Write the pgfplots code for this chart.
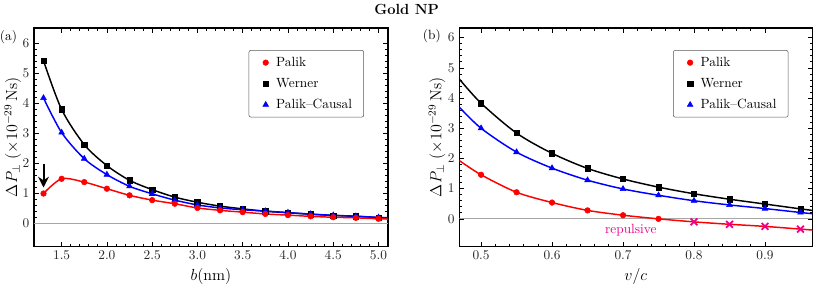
\documentclass[border=0pt]{standalone}
\usepackage{pgfplots}
\pgfplotsset{compat=1.18}
\usetikzlibrary{arrows.meta}

\pgfplotstableread{
b     W     C      P
1.3   5.42  4.18   1.00
1.5   3.80  3.03   1.49
1.75  2.63  2.16   1.38
2.0   1.93  1.63   1.16
2.25  1.44  1.24   0.94
2.5   1.13  0.99   0.78
2.75  0.88  0.78   0.66
3.0   0.71  0.62   0.52
3.25  0.58  0.52   0.44
3.5   0.49  0.46   0.38
3.75  0.41  0.415  0.32
4.0   0.36  0.365  0.28
4.25  0.31  0.315  0.24
4.5   0.27  0.275  0.21
4.75  0.24  0.245  0.19
5.0   0.20  0.205  0.16
}\tabA

\pgfplotstableread{
v      W     C     P
0.5    3.83  3.00  1.46
0.55   2.84  2.21  0.88
0.6    2.17  1.68  0.54
0.65   1.67  1.28  0.28
0.7    1.32  0.99  0.12
0.75   1.05  0.78  0.00
0.8    0.83  0.60  -0.10
0.85   0.65  0.46  -0.18
0.9    0.49  0.34  -0.25
0.95   0.33  0.21  -0.34
}\tabB

\pgfplotsset{
  myax/.style={
    scale only axis, anchor=south west,
    height=163.9pt,
    clip mode=individual,
    axis line style={line width=0.9pt},
    tick align=inside, tick pos=both,
    major tick length=3.5pt, minor tick length=2pt,
    every tick/.style={black, line width=0.5pt},
    minor tick num=4,
    ytick={0,1,2,3,4,5,6},
    tick label style={font=\normalsize, black!85},
    label style={font=\large},
    ylabel={$\Delta P_{\perp}\ (\times 10^{-29}\,\mathrm{Ns})$},
    legend cell align=left,
    legend image code/.code={\path (0cm,0cm) (0.4cm,0cm); \draw[##1] plot coordinates {(0.2cm,0cm)};},
    legend style={at={(0.932,0.899)}, anchor=north east, draw=black!65,
      rounded corners=1.5pt, font=\normalsize, row sep=3.4pt,
      inner xsep=6.7pt, inner ysep=3pt},
  },
  lin/.style={line width=1.1pt, smooth, no markers},
}

\begin{document}
\begin{tikzpicture}
\useasboundingbox (0,0) rectangle (610.5pt,220.5pt);
\node[font=\fontsize{11}{13}\selectfont\bfseries] at (305pt,213.5pt) {Gold NP};

\begin{axis}[myax, at={(25.5pt,35.6pt)}, width=265.5pt,
  xmin=1.195, xmax=5.105, ymin=-0.765, ymax=6.51,
  xtick={1.5,2.0,2.5,3.0,3.5,4.0,4.5,5.0},
  xticklabel style={/pgf/number format/.cd, fixed, fixed zerofill, precision=1},
  ylabel style={at={(rel axis cs:-0.06,0.5)}, anchor=center},
  xlabel={$b(\mathrm{nm})$}]
  \addplot[gray!70, line width=0.6pt, forget plot] coordinates {(1.195,0) (5.105,0)};
  \addplot[lin, black, forget plot] coordinates {(1.3,5.42) (1.5,3.80) (1.75,2.63) (2.0,1.93) (2.25,1.44) (2.5,1.13) (2.75,0.88) (3.0,0.71) (3.25,0.58) (3.5,0.49) (3.75,0.41) (4.0,0.36) (4.25,0.31) (4.5,0.27) (4.75,0.24) (5.0,0.20) (5.105,0.19)};
  \addplot[lin, blue, forget plot] coordinates {(1.3,4.18) (1.5,3.03) (1.75,2.16) (2.0,1.63) (2.25,1.24) (2.5,0.99) (2.75,0.78) (3.0,0.62) (3.25,0.52) (3.5,0.46) (3.75,0.415) (4.0,0.365) (4.25,0.315) (4.5,0.275) (4.75,0.245) (5.0,0.205) (5.105,0.195)};
  \addplot[lin, red, forget plot] coordinates {(1.3,1.00) (1.5,1.49) (1.75,1.38) (2.0,1.16) (2.25,0.94) (2.5,0.78) (2.75,0.66) (3.0,0.52) (3.25,0.44) (3.5,0.38) (3.75,0.32) (4.0,0.28) (4.25,0.24) (4.5,0.21) (4.75,0.19) (5.0,0.16) (5.105,0.15)};
  \addplot[only marks, mark=square*, mark size=2pt, black, forget plot] table[x=b,y=W] {\tabA};
  \addplot[only marks, mark=triangle*, mark size=2.5pt, blue, forget plot] table[x=b,y=C] {\tabA};
  \addplot[only marks, mark=*, mark size=2.1pt, red, forget plot] table[x=b,y=P] {\tabA};
  \draw[-{Stealth[length=8pt,width=8pt]}, line width=1.5pt] (axis cs:1.3,1.98) -- (axis cs:1.3,1.2);
  \addlegendimage{only marks, mark=*, mark size=2.1pt, red}
  \addlegendentry{Palik}
  \addlegendimage{only marks, mark=square*, mark size=2pt, black}
  \addlegendentry{Werner}
  \addlegendimage{only marks, mark=triangle*, mark size=2.5pt, blue}
  \addlegendentry{Palik--Causal}
  \node[font=\normalsize] at (rel axis cs:-0.072,0.958) {(a)};
\end{axis}

\begin{axis}[myax, at={(344.5pt,35.6pt)}, width=264.75pt,
  xmin=0.4694, xmax=0.9667, ymin=-0.917, ymax=6.32,
  xtick={0.5,0.6,0.7,0.8,0.9},
  xticklabel style={/pgf/number format/.cd, fixed, fixed zerofill, precision=1},
  ylabel style={at={(rel axis cs:-0.063,0.5)}, anchor=center},
  xlabel={$v/c$}]
  \addplot[gray!70, line width=0.6pt, forget plot] coordinates {(0.4694,0) (0.9667,0)};
  \addplot[lin, black, forget plot] coordinates {(0.4694,4.63) (0.5,3.83) (0.55,2.84) (0.6,2.17) (0.65,1.67) (0.7,1.32) (0.75,1.05) (0.8,0.83) (0.85,0.65) (0.9,0.49) (0.95,0.33) (0.9667,0.28)};
  \addplot[lin, blue, forget plot] coordinates {(0.4694,3.70) (0.5,3.00) (0.55,2.21) (0.6,1.68) (0.65,1.28) (0.7,0.99) (0.75,0.78) (0.8,0.60) (0.85,0.46) (0.9,0.34) (0.95,0.21) (0.9667,0.17)};
  \addplot[lin, red, forget plot] coordinates {(0.4694,1.93) (0.5,1.46) (0.55,0.88) (0.6,0.54) (0.65,0.28) (0.7,0.12) (0.75,0.00) (0.8,-0.10) (0.85,-0.18) (0.9,-0.25) (0.95,-0.34) (0.9667,-0.37)};
  \addplot[only marks, mark=square*, mark size=2pt, black, forget plot] table[x=v,y=W] {\tabB};
  \addplot[only marks, mark=triangle*, mark size=2.5pt, blue, forget plot] table[x=v,y=C] {\tabB};
  \addplot[only marks, mark=*, mark size=2.1pt, red, forget plot] coordinates {(0.5,1.46) (0.55,0.88) (0.6,0.54) (0.65,0.28) (0.7,0.12) (0.75,0.00)};
  \addplot[only marks, mark=x, mark size=3.6pt, magenta, line width=1.3pt, forget plot] coordinates {(0.8,-0.10) (0.85,-0.18) (0.9,-0.25) (0.95,-0.34)};
  \node[magenta, font=\normalsize] at (axis cs:0.711,-0.37) {repulsive};
  \addlegendimage{only marks, mark=*, mark size=2.1pt, red}
  \addlegendentry{Palik}
  \addlegendimage{only marks, mark=square*, mark size=2pt, black}
  \addlegendentry{Werner}
  \addlegendimage{only marks, mark=triangle*, mark size=2.5pt, blue}
  \addlegendentry{Palik--Causal}
  \node[font=\normalsize] at (rel axis cs:-0.078,0.963) {(b)};
\end{axis}
\end{tikzpicture}
\end{document}
